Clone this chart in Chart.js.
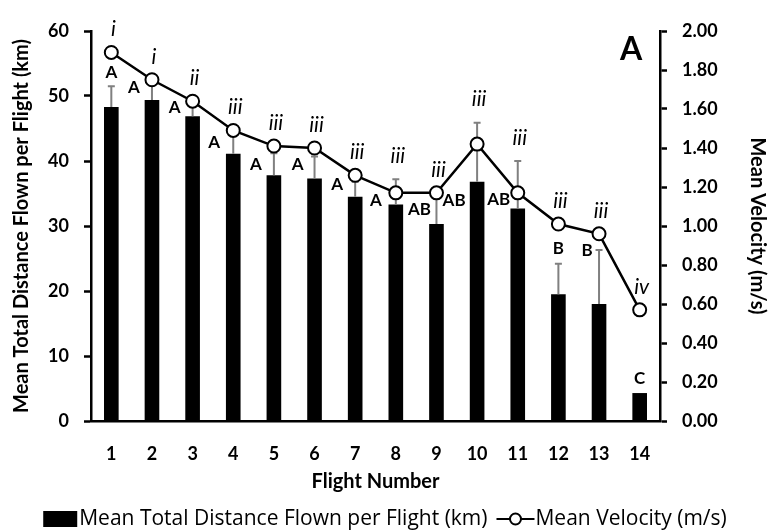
<!DOCTYPE html>
<html>
<head>
<script src="https://cdn.jsdelivr.net/npm/chart.js@4.4.0/dist/chart.umd.min.js"></script>
<style>
  body { margin: 0; background: #fff; }
</style>
</head>
<body>
<canvas id="myChart" width="770" height="530"></canvas>
<script>
// data
const flights = ['1', '2', '3', '4', '5', '6', '7', '8', '9', '10', '11', '12', '13', '14']
const distance = [48.3, 49.4, 46.9, 41.1, 37.8, 37.3, 34.5, 33.3, 30.3, 36.8, 32.7, 19.5, 18.0, 4.3]
const distanceErr = [3.2, 2.3, 1.4, 2.9, 3.4, 3.4, 2.3, 3.9, 4.3, 9.1, 7.3, 4.7, 8.3, 0]
const velocity = [1.89, 1.75, 1.64, 1.49, 1.41, 1.40, 1.26, 1.17, 1.17, 1.42, 1.17, 1.01, 0.96, 0.57]
const distanceGroups = ['A', 'A', 'A', 'A', 'A', 'A', 'A', 'A', 'AB', 'AB', 'AB', 'B', 'B', 'C']
const velocityGroups = ['i', 'i', 'ii', 'iii', 'iii', 'iii', 'iii', 'iii', 'iii', 'iii', 'iii', 'iii', 'iii', 'iv']

const FONT = 'Lato'
// where each distance letter sits, relative to the velocity marker (px)
const letterOffsets = [[0, 20], [-18, 8], [-18, 6], [-19, 12], [-18, 18], [-17, 17], [-18, 9],
  [-20, 8], [-17, 17], [-23, 56], [-19, 7], [0, 24], [-12, 17], [0, 69]]

// gray upper error bars on the columns
const errorBars = {
  id: 'errorBars',
  afterDatasetDraw(chart, args) {
    if (args.meta.type !== 'bar') return
    const c = chart.ctx
    const y = chart.scales.y
    c.save()
    c.strokeStyle = '#808080'
    c.lineWidth = 2
    args.meta.data.forEach((bar, i) => {
      if (!distanceErr[i]) return
      const top = y.getPixelForValue(distance[i] + distanceErr[i])
      c.beginPath()
      c.moveTo(bar.x, bar.y)
      c.lineTo(bar.x, top)
      c.moveTo(bar.x - 3.5, top)
      c.lineTo(bar.x + 3.5, top)
      c.stroke()
    })
    c.restore()
  }
}

// significance letters, numerals, panel letter and the legend
const annotations = {
  id: 'annotations',
  afterDraw(chart) {
    const c = chart.ctx
    const y = chart.scales.y
    const pts = chart.getDatasetMeta(0).data
    c.save()
    c.fillStyle = '#000'
    c.textAlign = 'center'
    c.textBaseline = 'middle'

    c.font = 'bold 17px ' + FONT
    pts.forEach((p, i) => {
      c.fillText(distanceGroups[i], p.x + letterOffsets[i][0], p.y + letterOffsets[i][1])
    })

    c.font = 'italic 21px ' + FONT
    pts.forEach((p, i) => {
      const errTop = y.getPixelForValue(distance[i] + distanceErr[i])
      c.fillText(velocityGroups[i], p.x + 2, Math.min(p.y, errTop) - 23)
    })

    c.font = 'bold 32px ' + FONT
    c.fillText('A', 631, 50)

    // legend
    const lab1 = 'Mean Total Distance Flown per Flight (km)'
    const lab2 = 'Mean Velocity (m/s)'
    c.font = '21px "Open Sans"'
    const w1 = c.measureText(lab1).width
    const w2 = c.measureText(lab2).width
    const total = 34 + 2 + w1 + 9 + 38 + 1 + w2
    let x = (chart.width - total) / 2
    const ly = 519
    c.fillRect(x, ly - 8, 34, 16)
    x += 36
    c.textAlign = 'left'
    c.fillText(lab1, x, ly)
    x += w1 + 9
    c.strokeStyle = '#000'
    c.lineWidth = 2
    c.beginPath()
    c.moveTo(x, ly)
    c.lineTo(x + 38, ly)
    c.stroke()
    c.beginPath()
    c.arc(x + 19, ly, 5.5, 0, Math.PI * 2)
    c.fillStyle = '#fff'
    c.fill()
    c.stroke()
    c.fillStyle = '#000'
    c.fillText(lab2, x + 39, ly)
    c.restore()
  }
}

const tickFont = { family: FONT, size: 18, weight: 'bold' }
const titleFont = { family: FONT, size: 20, weight: 'bold' }

const myChart = new Chart(document.getElementById('myChart'), {
  data: {
    labels: flights,
    datasets: [
      {
        type: 'line',
        label: 'Mean Velocity (m/s)',
        data: velocity,
        yAxisID: 'y2',
        borderColor: '#000',
        borderWidth: 2.5,
        pointRadius: 6.5,
        pointBackgroundColor: '#fff',
        pointBorderColor: '#000',
        pointBorderWidth: 2,
        order: 0
      },
      {
        type: 'bar',
        label: 'Mean Total Distance Flown per Flight (km)',
        data: distance,
        yAxisID: 'y',
        backgroundColor: '#000',
        barPercentage: 0.36,
        categoryPercentage: 1,
        order: 1
      }
    ]
  },
  options: {
    responsive: false,
    animation: false,
    layout: { padding: { top: 31, bottom: 36, left: 0, right: 0 } },
    plugins: { legend: { display: false }, tooltip: { enabled: false } },
    scales: {
      x: {
        grid: { display: false, drawTicks: false },
        border: { color: '#000', width: 2.5 },
        ticks: { font: tickFont, color: '#000', padding: 22 },
        title: { display: true, text: 'Flight Number', font: titleFont, color: '#000', padding: { top: 4, bottom: 0 } },
        afterFit: (s) => { s.height = 73 }
      },
      y: {
        position: 'left',
        min: 0,
        max: 60,
        ticks: { stepSize: 10, font: tickFont, color: '#000', padding: 15 },
        grid: { drawOnChartArea: false, tickLength: 7, tickColor: '#000', tickWidth: 2.5 },
        border: { color: '#000', width: 2.5 },
        title: { display: true, text: 'Mean Total Distance Flown per Flight (km)', font: titleFont, color: '#000', padding: 10 },
        afterFit: (s) => { s.width = 91 }
      },
      y2: {
        position: 'right',
        min: 0,
        max: 2,
        ticks: { stepSize: 0.2, font: tickFont, color: '#000', padding: 15, callback: (v) => v.toFixed(2) },
        grid: { drawOnChartArea: false, tickLength: 7, tickColor: '#000', tickWidth: 2.5 },
        border: { color: '#000', width: 2.5 },
        title: { display: true, text: 'Mean Velocity (m/s)', font: titleFont, color: '#000', padding: 1 },
        afterFit: (s) => { s.width = 110 }
      }
    }
  },
  plugins: [errorBars, annotations]
})
</script>
</body>
</html>
